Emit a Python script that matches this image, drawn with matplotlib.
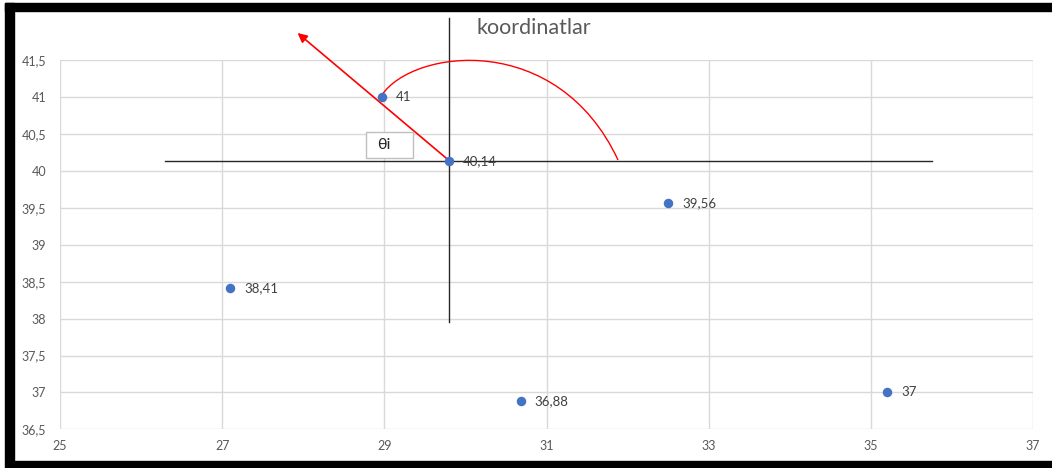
import matplotlib
matplotlib.use("Agg")
import matplotlib.pyplot as plt
from matplotlib.patches import Rectangle, PathPatch, FancyArrowPatch
from matplotlib.path import Path

# Coordinate points (x, y) and their labels
x_vals = [27.1, 28.97, 29.8, 30.68, 32.5, 35.2]
y_vals = [38.41, 41.0, 40.14, 36.88, 39.56, 37.0]

x_ticks = [25, 27, 29, 31, 33, 35, 37]
y_ticks = [36.5, 37, 37.5, 38, 38.5, 39, 39.5, 40, 40.5, 41, 41.5]

title = "koordinatlar"
angle_label = "θi"

origin = (29.8, 40.14)

def fmt(v):
    s = f"{v:g}"
    return s.replace(".", ",")

plt.rcParams["font.family"] = ["Lato", "DejaVu Sans"]

fig = plt.figure(figsize=(10.52, 4.68), dpi=100)
ax = fig.add_axes([60 / 1052, 1 - 429.3 / 468, 973 / 1052, 369 / 468])

ax.set_xlim(25, 37)
ax.set_ylim(36.5, 41.5)
ax.set_xticks(x_ticks)
ax.set_yticks(y_ticks)
ax.set_xticklabels([fmt(v) for v in x_ticks])
ax.set_yticklabels([fmt(v) for v in y_ticks])
ax.tick_params(length=0, colors="#595959", labelsize=9)
ax.tick_params(axis="y", pad=10)
ax.tick_params(axis="x", pad=8)
for s in ax.spines.values():
    s.set_visible(False)
ax.grid(True, color="#d9d9d9", linewidth=1.0)
ax.set_axisbelow(True)

# reference cross through the origin point
ax.plot([26.29, 35.76], [origin[1], origin[1]], color="#262626", lw=1.0,
        clip_on=False, zorder=2)
ax.plot([origin[0], origin[0]], [37.95, 42.07], color="#262626", lw=1.0,
        clip_on=False, zorder=2)

# direction arrow
arrow = FancyArrowPatch(origin, (27.93, 41.87), arrowstyle="-|>",
                        mutation_scale=14, color="#ff0000", lw=1.2,
                        clip_on=False, zorder=3, shrinkA=0, shrinkB=0)
ax.add_patch(arrow)

# angle arc
arc_path = Path([(28.97, 41.03), (29.36, 41.66), (31.14, 41.90), (31.882, 40.149)],
                [Path.MOVETO, Path.CURVE4, Path.CURVE4, Path.CURVE4])
ax.add_patch(PathPatch(arc_path, fill=False, edgecolor="#ff0000", lw=1.0,
                       clip_on=False, zorder=3))

# angle label box
ax.add_patch(Rectangle((28.774, 40.176), 0.58, 0.352, facecolor="white",
                       edgecolor="#bfbfbf", lw=1.0, zorder=4))
ax.text(28.91, 40.35, angle_label, ha="left", va="center", fontsize=11.5,
        color="#262626", zorder=5)

ax.scatter(x_vals, y_vals, s=34, color="#4472c4", zorder=5, clip_on=False)
for xv, yv in zip(x_vals, y_vals):
    ax.annotate(fmt(yv), (xv, yv), xytext=(10, 0), textcoords="offset points",
                ha="left", va="center", fontsize=9.5, color="#404040", zorder=6)

fig.text(477 / 1052, 1 - 28 / 468, title, ha="left", va="center",
         fontsize=15.5, color="#595959")

# black frame around the picture
for rx, ry, rw, rh in [(5, 3, 1047, 8), (5, 3, 9, 458), (5, 461, 1047, 7)]:
    fig.patches.append(Rectangle((rx / 1052, 1 - (ry + rh) / 468), rw / 1052, rh / 468,
                                 transform=fig.transFigure, color="black", zorder=10))

fig.savefig("out.png", dpi=100)
